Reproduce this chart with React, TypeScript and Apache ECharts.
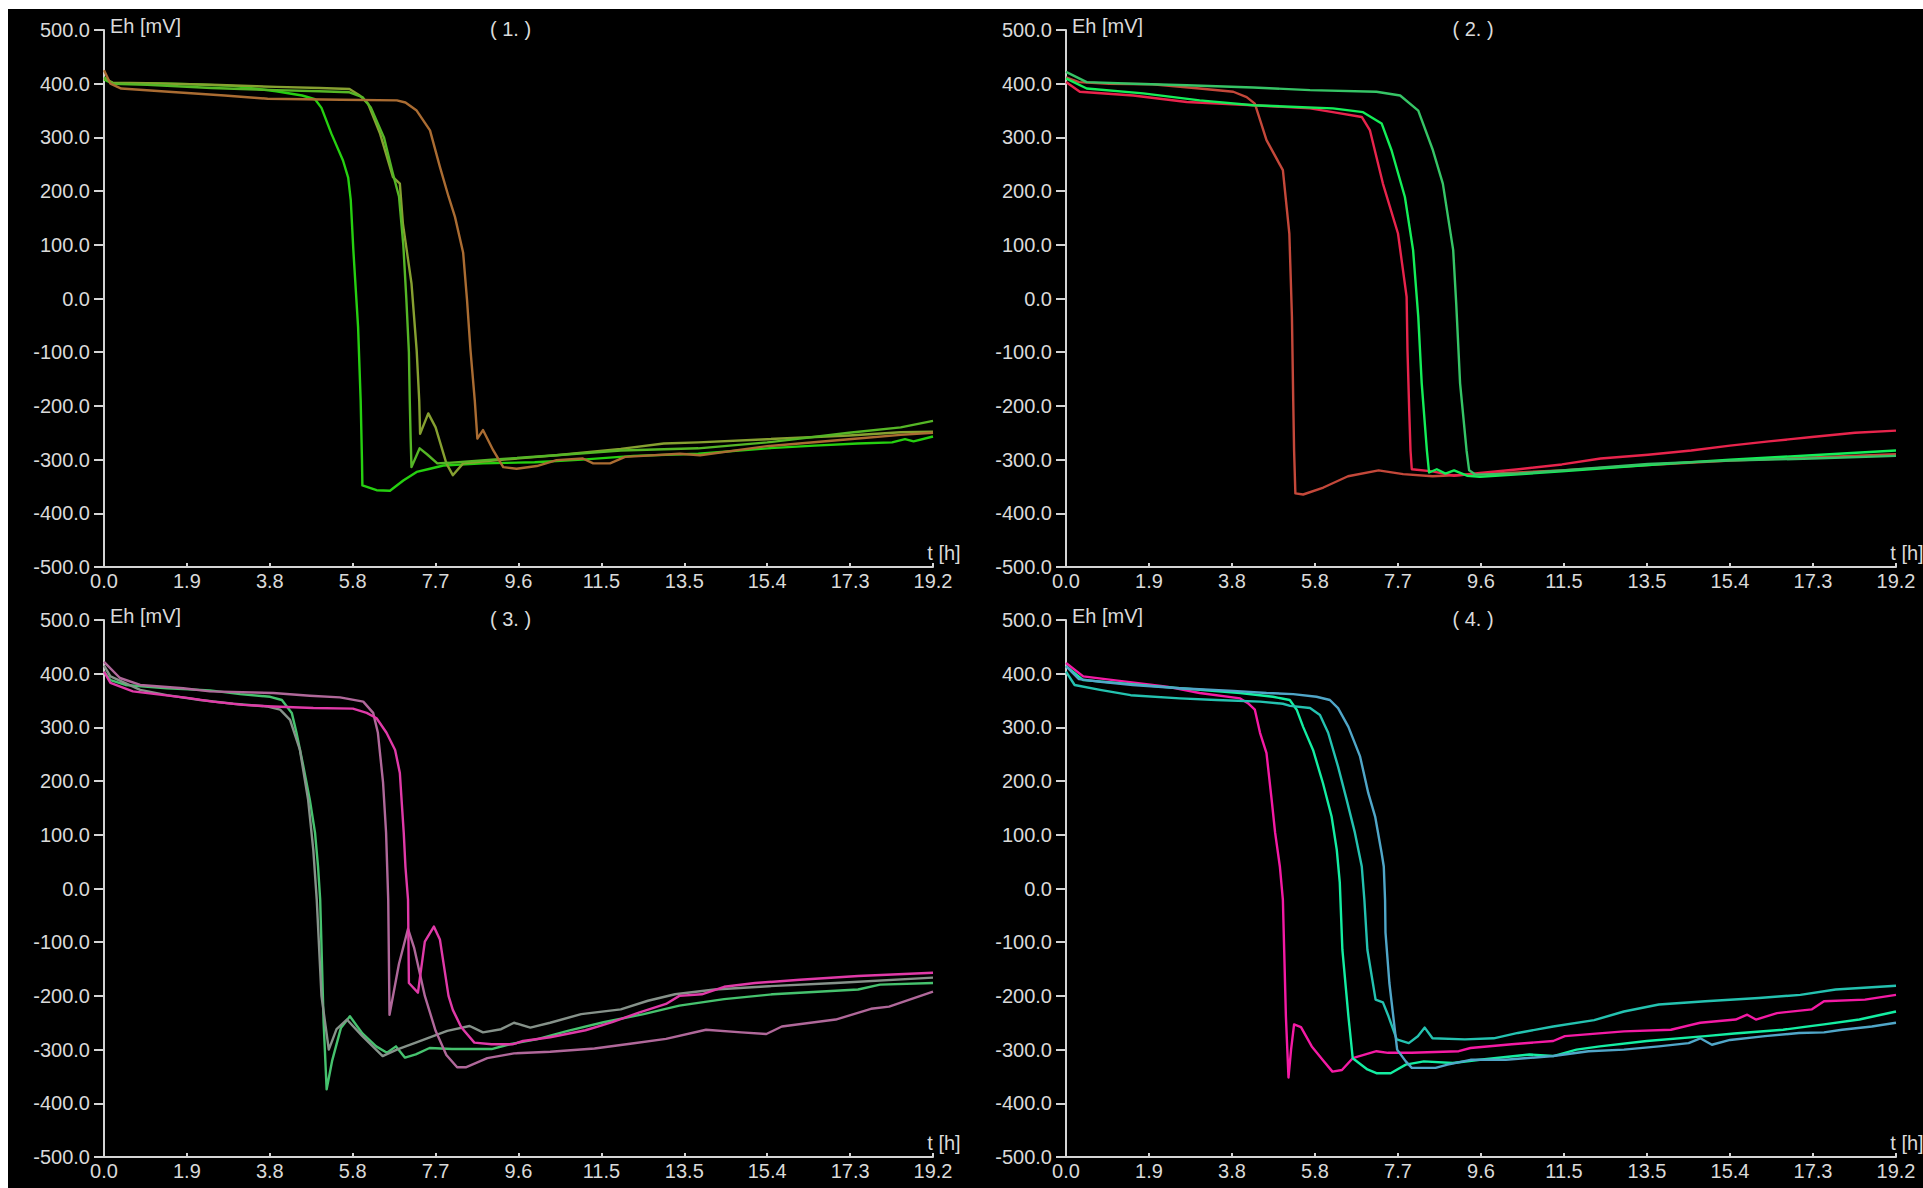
import React, { useEffect, useRef } from "react";
import * as echarts from "echarts";

type Pt = [number, number];

// Axis scales shared by the four panels
const timeTicks = ["0.0", "1.9", "3.8", "5.8", "7.7", "9.6", "11.5", "13.5", "15.4", "17.3", "19.2"];
const timeMax = 19.25;
const timeStep = 1.925;
const ehMin = -500;
const ehMax = 500;
const ehStep = 100;

const panelTitles = ["( 1. )", "( 2. )", "( 3. )", "( 4. )"];
const ehAxisName = "Eh [mV]";
const timeAxisName = "t [h]";

// ---- Panel 1: Eh [mV] against t [h] ----
const p1Lime: Pt[] = [
  [0, 408], [0.2, 400], [1.0, 401], [2.0, 399], [3.0, 396], [4.0, 386], [4.6, 378], [4.9, 371],
  [5.05, 355], [5.28, 307], [5.55, 257], [5.67, 225], [5.73, 183], [5.79, 90], [5.9, -53],
  [5.96, -190], [5.99, -300], [6.0, -348], [6.33, -357], [6.64, -358], [6.95, -339], [7.26, -323],
  [7.57, -317], [7.88, -311], [8.8, -307], [10.0, -305], [11.1, -300], [12.3, -293], [13.8, -289],
  [15.4, -279], [16.5, -274], [17.5, -270], [18.3, -268], [18.6, -262], [18.8, -266], [19.25, -257],
];
const p1Olive: Pt[] = [
  [0, 410], [0.2, 402], [1.0, 401], [2.5, 398], [4.0, 394], [5.0, 392], [5.7, 390], [5.94, 378],
  [6.13, 363], [6.41, 307], [6.71, 226], [6.87, 214], [6.94, 140], [7.14, 28], [7.26, -96],
  [7.32, -190], [7.34, -252], [7.53, -214], [7.7, -240], [7.95, -307], [8.1, -329], [8.34, -307],
  [9.3, -300], [10.5, -292], [12.0, -280], [13.0, -270], [13.8, -268], [15.4, -262], [17.3, -255],
  [18.5, -249], [19.25, -248],
];
const p1Green: Pt[] = [
  [0, 412], [0.2, 400], [1.0, 398], [2.5, 392], [4.0, 388], [5.0, 386], [5.7, 384], [6.0, 375],
  [6.2, 355], [6.5, 300], [6.7, 235], [6.85, 190], [6.95, 100], [7.02, 0], [7.08, -100],
  [7.1, -190], [7.12, -260], [7.14, -314], [7.33, -279], [7.5, -290], [7.74, -307], [8.0, -306],
  [9.0, -300], [10.5, -292], [12.0, -283], [13.8, -279], [15.4, -268], [17.3, -250], [18.5, -240],
  [19.25, -228],
];
const p1Brown: Pt[] = [
  [0, 425], [0.15, 400], [0.4, 391], [1.5, 385], [2.8, 378], [3.8, 372], [5.5, 370], [6.8, 369],
  [7.0, 365], [7.26, 350], [7.57, 313], [7.8, 245], [8.0, 190], [8.15, 152], [8.34, 85],
  [8.43, -3], [8.51, -96], [8.61, -190], [8.67, -261], [8.8, -245], [9.04, -283], [9.27, -314],
  [9.58, -317], [10.05, -312], [10.51, -301], [11.12, -298], [11.36, -307], [11.75, -307],
  [12.1, -295], [13.37, -289], [13.84, -292], [15.4, -275], [17.3, -262], [18.5, -254], [19.25, -250],
];

// ---- Panel 2 ----
const p2Rust: Pt[] = [
  [0, 412], [0.3, 403], [1.0, 400], [2.0, 399], [3.1, 391], [3.88, 385], [4.19, 375], [4.38, 363],
  [4.65, 295], [5.03, 239], [5.18, 121], [5.24, -34], [5.27, -190], [5.29, -283], [5.32, -363],
  [5.5, -365], [5.97, -352], [6.54, -331], [7.25, -320], [7.82, -327], [8.5, -331], [9.6, -327],
  [11.5, -320], [13.5, -310], [15.4, -302], [17.3, -296], [19.25, -290],
];
const p2Crimson: Pt[] = [
  [0, 403], [0.32, 385], [1.56, 378], [2.8, 366], [4.34, 360], [5.66, 354], [6.19, 347],
  [6.86, 338], [7.05, 313], [7.35, 214], [7.7, 121], [7.9, 3], [7.92, -96], [7.96, -208],
  [7.99, -283], [8.02, -318], [8.5, -322], [9.0, -330], [9.6, -325], [10.5, -318], [11.5, -309],
  [12.4, -298], [13.5, -291], [14.5, -283], [15.4, -274], [16.3, -266], [17.3, -258], [18.3, -250],
  [19.25, -246],
];
const p2Bright: Pt[] = [
  [0, 410], [0.48, 391], [1.79, 382], [3.1, 369], [4.34, 360], [6.19, 354], [6.89, 347],
  [7.32, 326], [7.55, 276], [7.86, 189], [8.05, 90], [8.17, -34], [8.25, -158], [8.37, -283],
  [8.42, -324], [8.6, -318], [8.8, -326], [9.0, -320], [9.3, -330], [9.6, -332], [11.5, -322],
  [13.5, -310], [15.4, -300], [17.3, -292], [19.25, -283],
];
const p2Green: Pt[] = [
  [0, 422], [0.48, 403], [1.56, 400], [2.8, 397], [4.34, 393], [5.66, 388], [7.2, 385],
  [7.75, 378], [8.17, 350], [8.51, 276], [8.74, 214], [8.98, 90], [9.05, -9], [9.14, -158],
  [9.29, -283], [9.35, -320], [9.5, -328], [10.5, -326], [11.5, -320], [13.5, -308], [15.4, -302],
  [17.3, -298], [19.25, -293],
];

// ---- Panel 3 ----
const p3Green: Pt[] = [
  [0, 404], [0.15, 388], [0.5, 379], [1.46, 373], [2.46, 369], [3.16, 362], [3.86, 357],
  [4.13, 351], [4.36, 327], [4.47, 290], [4.63, 227], [4.78, 165], [4.9, 104], [4.97, 41],
  [5.02, -21], [5.1, -250], [5.17, -374], [5.3, -320], [5.5, -260], [5.71, -238], [6.0, -270],
  [6.32, -294], [6.57, -306], [6.78, -294], [6.99, -315], [7.24, -309], [7.56, -297], [8.08, -299],
  [9.0, -299], [9.42, -290], [10.04, -281], [10.77, -265], [11.6, -249], [12.53, -234],
  [13.36, -218], [14.4, -206], [15.53, -197], [17.51, -188], [18.02, -179], [19.25, -176],
];
const p3Grey: Pt[] = [
  [0, 415], [0.15, 395], [0.84, 370], [1.46, 360], [2.23, 351], [3.0, 344], [3.78, 339],
  [4.09, 333], [4.32, 314], [4.55, 258], [4.74, 165], [4.86, 72], [4.94, -21], [5.05, -200],
  [5.22, -300], [5.4, -262], [5.64, -244], [6.0, -275], [6.47, -312], [6.8, -300], [7.24, -287],
  [7.97, -265], [8.49, -256], [8.8, -268], [9.22, -262], [9.52, -250], [9.9, -259], [10.36, -250],
  [11.08, -234], [12.0, -225], [12.63, -209], [13.26, -197], [14.18, -188], [15.43, -182],
  [16.99, -176], [19.25, -166],
];
const p3Mauve: Pt[] = [
  [0, 422], [0.37, 392], [0.84, 379], [1.84, 373], [2.46, 367], [3.93, 364], [4.78, 359],
  [5.48, 356], [6.02, 348], [6.25, 327], [6.36, 290], [6.48, 197], [6.55, 104], [6.6, -21],
  [6.63, -235], [6.85, -140], [7.06, -75], [7.2, -110], [7.45, -200], [7.7, -265], [7.95, -310],
  [8.2, -333], [8.4, -333], [8.9, -316], [9.52, -307], [10.36, -304], [11.39, -298], [12.22, -289],
  [13.05, -280], [13.98, -263], [14.8, -268], [15.38, -271], [15.74, -257], [16.99, -244],
  [17.81, -224], [18.23, -220], [19.25, -192],
];
const p3Magenta: Pt[] = [
  [0, 404], [0.15, 383], [0.67, 367], [1.93, 355], [2.53, 348], [3.23, 342], [3.93, 339],
  [4.86, 336], [5.78, 335], [6.1, 327], [6.33, 317], [6.56, 290], [6.76, 258], [6.87, 215],
  [6.91, 165], [6.96, 104], [7.0, 40], [7.06, -21], [7.08, -176], [7.29, -194], [7.45, -99],
  [7.66, -71], [7.8, -95], [8.0, -200], [8.1, -226], [8.3, -259], [8.6, -287], [9.0, -290],
  [9.5, -290], [9.73, -284], [10.36, -277], [11.18, -264], [11.8, -249], [12.42, -231],
  [13.05, -215], [13.36, -200], [13.88, -197], [14.4, -183], [15.12, -176], [16.16, -170],
  [17.51, -163], [19.25, -157],
];

// ---- Panel 4 ----
const p4Pink: Pt[] = [
  [0, 420], [0.4, 395], [1.1, 388], [2.34, 376], [3.1, 364], [4.04, 354], [4.22, 345], [4.38, 333],
  [4.5, 290], [4.65, 252], [4.77, 165], [4.85, 104], [4.96, 41], [5.03, -21], [5.06, -114],
  [5.1, -238], [5.16, -352], [5.22, -300], [5.29, -253], [5.45, -258], [5.7, -294], [5.95, -319],
  [6.18, -341], [6.4, -338], [6.65, -316], [7.2, -303], [7.47, -306], [8.02, -306], [9.11, -303],
  [9.38, -297], [10.34, -290], [11.3, -284], [11.57, -275], [12.94, -266], [14.03, -263],
  [14.71, -250], [15.53, -244], [15.8, -235], [16.0, -244], [16.49, -232], [17.3, -225],
  [17.58, -210], [18.53, -207], [19.25, -198],
];
const p4Spring: Pt[] = [
  [0, 414], [0.4, 388], [1.18, 383], [2.18, 376], [3.1, 370], [4.04, 364], [4.8, 357], [5.19, 351],
  [5.35, 333], [5.5, 301], [5.73, 258], [5.96, 196], [6.16, 134], [6.28, 72], [6.35, 11],
  [6.41, -114], [6.55, -238], [6.65, -316], [6.99, -337], [7.2, -344], [7.53, -344], [7.88, -328],
  [8.3, -322], [8.97, -325], [9.6, -319], [10.75, -309], [11.3, -312], [11.84, -300], [12.38, -294],
  [13.47, -284], [14.83, -275], [15.5, -270], [16.63, -263], [17.58, -253], [18.4, -244],
  [19.25, -229],
];
const p4Teal: Pt[] = [
  [0, 404], [0.2, 379], [0.79, 370], [1.5, 360], [2.64, 354], [3.49, 351], [4.5, 348], [5.03, 344],
  [5.2, 340], [5.66, 336], [5.89, 323], [6.08, 290], [6.31, 227], [6.51, 165], [6.7, 104],
  [6.86, 41], [6.92, -21], [6.99, -114], [7.18, -207], [7.35, -212], [7.48, -238], [7.67, -281],
  [7.95, -288], [8.16, -275], [8.32, -259], [8.5, -279], [9.25, -281], [9.92, -279], [10.48, -269],
  [11.3, -257], [12.25, -245], [12.94, -229], [13.75, -216], [14.83, -210], [16.07, -204],
  [17.03, -198], [17.85, -188], [19.25, -181],
];
const p4Blue: Pt[] = [
  [0, 414], [0.3, 390], [0.8, 385], [1.55, 379], [2.64, 373], [3.88, 368], [4.65, 364], [5.27, 362],
  [5.81, 357], [6.12, 351], [6.31, 336], [6.55, 301], [6.82, 246], [7.01, 178], [7.17, 134],
  [7.32, 66], [7.37, 41], [7.4, -21], [7.41, -82], [7.5, -176], [7.68, -300], [7.88, -322],
  [8.02, -334], [8.57, -334], [8.85, -328], [9.38, -319], [10.2, -319], [11.3, -312], [12.12, -303],
  [12.94, -300], [13.75, -294], [14.44, -288], [14.71, -279], [14.98, -291], [15.4, -282],
  [16.21, -275], [17.0, -269], [17.58, -268], [18.0, -263], [18.69, -257], [19.25, -250],
];

const panelData: Pt[][][] = [
  [p1Lime, p1Olive, p1Green, p1Brown],
  [p2Rust, p2Crimson, p2Bright, p2Green],
  [p3Green, p3Grey, p3Mauve, p3Magenta],
  [p4Pink, p4Spring, p4Teal, p4Blue],
];

// Trace colours, one row per panel
const panelColors: string[][] = [
  ["#26d010", "#86a030", "#55b626", "#aa6c32"],
  ["#c4483a", "#e8244c", "#14ee58", "#36c466"],
  ["#46c26e", "#86928a", "#b0689a", "#e03aa8"],
  ["#f41aa4", "#14eea2", "#24c2b0", "#50a6c8"],
];

// Plot rectangles (px, relative to the chart box)
const gridBoxes = [
  { left: 96, top: 21, width: 829, height: 537 },
  { left: 1058, top: 21, width: 830, height: 537 },
  { left: 96, top: 611, width: 829, height: 537 },
  { left: 1058, top: 611, width: 830, height: 537 },
];

const AXIS_COLOR = "#d4d4d4";
const TEXT_COLOR = "#dadada";
const FONT_FAMILY = '"Liberation Sans", Arial, sans-serif';
const FONT_SIZE = 20;
const TRACE_WIDTH = 2.4;

function buildOption(): echarts.EChartsOption {
  const grid = gridBoxes.map((g) => ({ ...g, containLabel: false, show: false }));

  const xAxis = gridBoxes.map((_, i) => ({
    type: "value" as const,
    gridIndex: i,
    min: 0,
    max: timeMax,
    interval: timeStep,
    axisLine: { show: true, onZero: false, lineStyle: { color: AXIS_COLOR, width: 2 } },
    axisTick: { show: true, inside: true, length: 4, lineStyle: { color: AXIS_COLOR, width: 2 } },
    axisLabel: {
      show: true,
      color: TEXT_COLOR,
      fontFamily: FONT_FAMILY,
      fontSize: FONT_SIZE,
      margin: 4,
      showMinLabel: true,
      showMaxLabel: true,
      formatter: (v: number) => timeTicks[Math.round(v / timeStep)] ?? "",
    },
    splitLine: { show: false },
  }));

  const yAxis = gridBoxes.map((_, i) => ({
    type: "value" as const,
    gridIndex: i,
    min: ehMin,
    max: ehMax,
    interval: ehStep,
    axisLine: { show: true, onZero: false, lineStyle: { color: AXIS_COLOR, width: 2 } },
    axisTick: { show: true, inside: false, length: 10, lineStyle: { color: AXIS_COLOR, width: 2 } },
    axisLabel: {
      show: true,
      color: TEXT_COLOR,
      fontFamily: FONT_FAMILY,
      fontSize: FONT_SIZE,
      margin: 14,
      showMinLabel: true,
      showMaxLabel: true,
      formatter: (v: number) => v.toFixed(1),
    },
    splitLine: { show: false },
  }));

  const series: any[] = [];
  panelData.forEach((traces, i) => {
    traces.forEach((data, j) => {
      series.push({
        type: "line",
        xAxisIndex: i,
        yAxisIndex: i,
        data,
        showSymbol: false,
        symbol: "none",
        silent: true,
        lineStyle: { color: panelColors[i][j], width: TRACE_WIDTH, join: "round" },
        itemStyle: { color: panelColors[i][j] },
      });
    });
  });

  const font = `${FONT_SIZE}px ${FONT_FAMILY}`;
  const graphic: any[] = [];
  gridBoxes.forEach((g, i) => {
    graphic.push({
      type: "text",
      x: g.left + 6,
      y: g.top - 4,
      silent: true,
      style: { text: ehAxisName, fill: TEXT_COLOR, font, align: "left", verticalAlign: "middle" },
    });
    graphic.push({
      type: "text",
      x: g.left + g.width / 2 - 8,
      y: g.top - 1,
      silent: true,
      style: { text: panelTitles[i], fill: TEXT_COLOR, font, align: "center", verticalAlign: "middle" },
    });
    graphic.push({
      type: "text",
      x: g.left + g.width + 11,
      y: g.top + g.height - 14,
      silent: true,
      style: { text: timeAxisName, fill: TEXT_COLOR, font, align: "center", verticalAlign: "middle" },
    });
  });

  return {
    animation: false,
    backgroundColor: "#000000",
    textStyle: { fontFamily: FONT_FAMILY },
    grid,
    xAxis,
    yAxis,
    series,
    graphic,
  } as echarts.EChartsOption;
}

export default function App() {
  const ref = useRef<HTMLDivElement>(null);

  useEffect(() => {
    if (!ref.current) return;
    const chart = echarts.init(ref.current, undefined, { renderer: "svg" });
    chart.setOption(buildOption());
    return () => chart.dispose();
  }, []);

  return (
    <div
      ref={ref}
      style={{
        position: "fixed",
        left: 8,
        top: 9,
        width: 1915,
        height: 1179,
        background: "#000",
      }}
    />
  );
}
